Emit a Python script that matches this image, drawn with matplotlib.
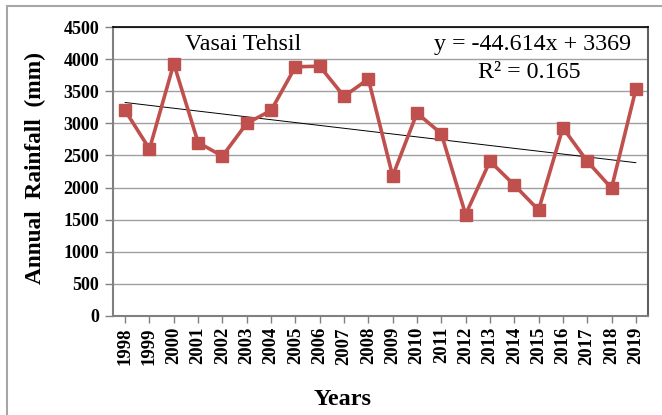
import matplotlib
matplotlib.use("Agg")
import matplotlib.pyplot as plt
import matplotlib.patches as patches

# Annual rainfall, Vasai Tehsil
years = [str(y) for y in range(1998, 2020)]
rainfall = [3200, 2600, 3930, 2700, 2490, 3000, 3200, 3880, 3890, 3420, 3690,
            2180, 3160, 2840, 1580, 2410, 2040, 1650, 2930, 2410, 1990, 3530]

# linear trend shown on the chart
slope = -44.614
intercept = 3369
r_squared = 0.165

plt.rcParams['font.family'] = ['Liberation Serif', 'DejaVu Serif']

fig = plt.figure(figsize=(6.62, 4.15), dpi=100)
ax = fig.add_axes([113 / 662, 1 - 316 / 415, 535 / 662, 289 / 415])

# outer chart border
border = patches.Rectangle((7 / 662, -0.05), 1.0, 1 - 6 / 415 + 0.05, transform=fig.transFigure,
                           fill=False, edgecolor='#a6a6a6', linewidth=1.5, clip_on=False)
fig.patches.append(border)

x = list(range(1, len(years) + 1))
ax.plot(x, rainfall, color='#c0504d', linewidth=2.6, marker='s', markersize=8.5,
        markerfacecolor='#c0504d', markeredgecolor='#c0504d', zorder=3)

trend = [slope * xi + intercept for xi in x]
ax.plot(x, trend, color='black', linewidth=0.7, zorder=2)

ax.set_xlim(0.5, len(years) + 0.5)
ax.set_ylim(0, 4500)
ax.set_yticks(range(0, 4501, 500))
ax.set_xticks(x)
ax.set_xticklabels(years, rotation=90, fontweight='bold', fontsize=13.5)
for lab in ax.get_yticklabels():
    lab.set_fontweight('bold')
    lab.set_fontsize(13)

ax.yaxis.grid(True, color='#a0a0a0', linewidth=1.0)
ax.set_axisbelow(True)
ax.tick_params(axis='x', length=5, color='#808080', width=1, pad=3)
ax.tick_params(axis='y', length=6, color='#808080', width=1, pad=4)

for s in ['left', 'bottom']:
    ax.spines[s].set_color('#808080')
    ax.spines[s].set_linewidth(1.5)
ax.spines['top'].set_color('black')
ax.spines['top'].set_linewidth(1.2)
ax.spines['right'].set_color('#606060')
ax.spines['right'].set_linewidth(1.5)

ax.text(0.243, 0.938, 'Vasai Tehsil', transform=ax.transAxes, ha='center', va='center', fontsize=17.3)
ax.text(0.968, 0.938, f'y = {slope}x + {intercept}', transform=ax.transAxes,
        ha='right', va='center', fontsize=17.3)
ax.text(0.779, 0.841, f'R² = {r_squared}', transform=ax.transAxes,
        ha='center', va='center', fontsize=17.3)

fig.text(0.518, 0.038, 'Years', ha='center', va='center', fontsize=17.5, fontweight='bold')
fig.text(0.053, 0.595, 'Annual  Rainfall  (mm)', ha='center', va='center', rotation=90,
         fontsize=16.8, fontweight='bold')

fig.savefig('out.png', dpi=100)
